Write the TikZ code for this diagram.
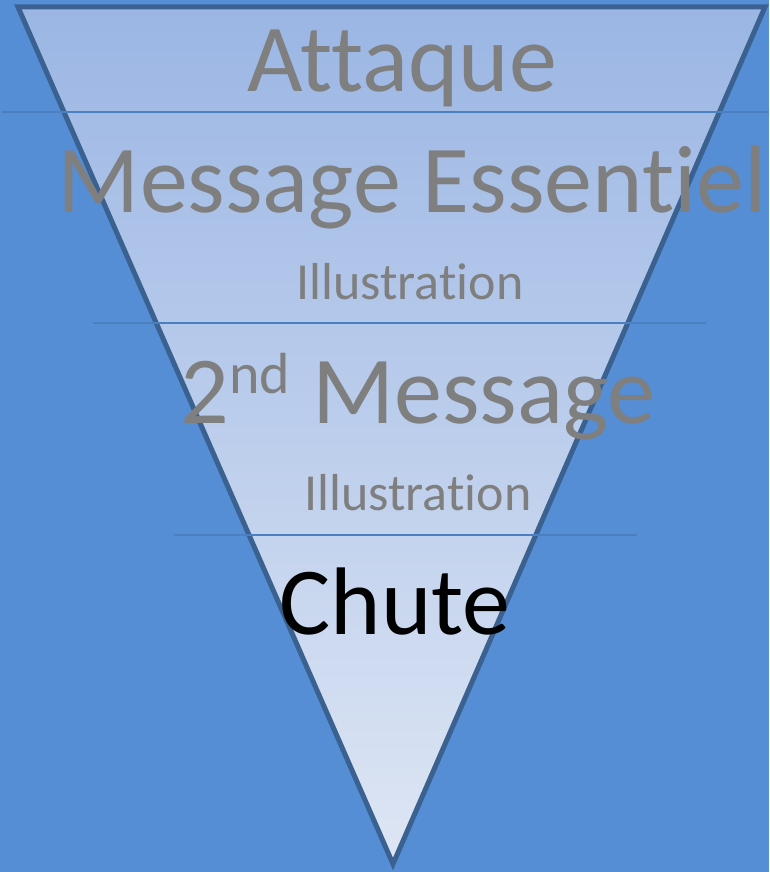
\documentclass[tikz,border=0pt]{standalone}
\usepackage{fontspec}
\setmainfont[Ligatures={NoCommon,NoContextual}]{Carlito}
\definecolor{bgblue}{HTML}{558ED5}
\definecolor{tritop}{HTML}{9BB6E4}
\definecolor{tribot}{HTML}{DEE6F4}
\definecolor{triedge}{HTML}{3B6190}
\definecolor{sepline}{HTML}{4A7FC0}
\definecolor{txtgray}{HTML}{7F7F7F}
\tikzset{
  bigtext/.style={anchor=base, text=txtgray, inner sep=0pt, font=\fontsize{96}{100}\selectfont},
  smalltext/.style={anchor=base, text=txtgray, inner sep=0pt, font=\fontsize{52}{56}\selectfont},
  sepstyle/.style={draw=sepline, line width=1.6pt},
  edgestyle/.style={draw=triedge, line width=5pt, line join=miter}
}
\begin{document}
\begin{tikzpicture}[x=1pt,y=-1pt]
\fill[bgblue] (0,0) rectangle (769,872);
\useasboundingbox (0,0) rectangle (769,872);
\coordinate (tl) at (18,7);
\coordinate (tr) at (765,7);
\coordinate (bt) at (393,864);
\shade[top color=tritop, bottom color=tribot] (tl) -- (tr) -- (bt) -- cycle;
\draw[edgestyle] (tl) -- (tr) -- (bt) -- cycle;
\coordinate (a1) at (2,112);
\coordinate (b1) at (769,112);
\coordinate (a2) at (93,323);
\coordinate (b2) at (706,323);
\coordinate (a3) at (174,535);
\coordinate (b3) at (637,535);
\draw[sepstyle] (a1) -- (b1);
\draw[sepstyle] (a2) -- (b2);
\draw[sepstyle] (a3) -- (b3);
\node[bigtext] (attaque) at (402,92) {Attaque};
\node[bigtext] (msg1) at (412,212) {Message Essentiel};
\node[smalltext] (ill1) at (410,299) {Illustration};
\node[bigtext] (msg2) at (418,423) {2\raisebox{30pt}{\fontsize{58}{60}\selectfont nd} Message};
\node[smalltext] (ill2) at (418,510) {Illustration};
\node[bigtext, text=black] (chute) at (395,634) {Chute};
\end{tikzpicture}
\end{document}
